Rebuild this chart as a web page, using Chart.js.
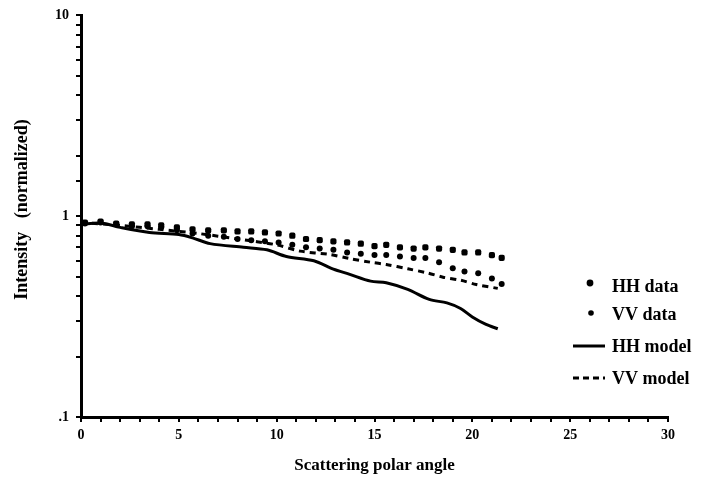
<!DOCTYPE html>
<html>
<head>
<meta charset="utf-8">
<script src="https://cdn.jsdelivr.net/npm/chart.js@4/dist/chart.umd.min.js"></script>
<style>
  html, body { margin: 0; padding: 0; background: #fff; }
  #wrap { width: 701px; height: 485px; }
</style>
</head>
<body>
<div id="wrap"><canvas id="chart" width="701" height="485"></canvas></div>
<script>
// Messpunkte (Winkel in Grad)
const dataAngles = [0.2, 1.0, 1.8, 2.6, 3.4, 4.1, 4.9, 5.7, 6.5, 7.3, 8.0, 8.7, 9.4, 10.1, 10.8, 11.5,
    12.2, 12.9, 13.6, 14.3, 15.0, 15.6, 16.3, 17.0, 17.6, 18.3, 19.0, 19.6, 20.3, 21.0, 21.5];
const hhData = [0.93, 0.94, 0.92, 0.91, 0.91, 0.90, 0.88, 0.86, 0.85, 0.85, 0.84, 0.84, 0.83, 0.82, 0.80, 0.77,
    0.76, 0.75, 0.74, 0.73, 0.71, 0.72, 0.70, 0.69, 0.70, 0.69, 0.68, 0.66, 0.66, 0.64, 0.62];
const vvData = [0.92, 0.93, 0.91, 0.89, 0.89, 0.88, 0.85, 0.82, 0.80, 0.79, 0.77, 0.76, 0.75, 0.74, 0.72, 0.70,
    0.69, 0.68, 0.66, 0.65, 0.64, 0.64, 0.63, 0.62, 0.62, 0.59, 0.55, 0.53, 0.52, 0.49, 0.46];

// Modellkurven
const hhModelAngles = [0, 1, 2, 3.5, 5, 5.7, 6.6, 8.3, 9.5, 10.5, 11.9, 12.9, 13.7, 14.8, 15.6, 16.7, 17.8, 18.7, 19.4, 20.0, 20.7, 21.3];
const hhModel = [0.91, 0.925, 0.88, 0.83, 0.81, 0.78, 0.73, 0.70, 0.68, 0.63, 0.60, 0.545, 0.515, 0.475, 0.466, 0.432, 0.385, 0.37, 0.347, 0.315, 0.289, 0.275];
const vvModelAngles = [0, 2, 4, 6, 8, 10, 11.2, 12.7, 13.7, 14.8, 15.6, 16.7, 17.7, 18.5, 19.4, 20.2, 21.3];
const vvModel = [0.93, 0.90, 0.86, 0.82, 0.77, 0.72, 0.67, 0.645, 0.616, 0.59, 0.575, 0.547, 0.522, 0.497, 0.48, 0.457, 0.437];

const legendLabels = ['HH data', 'VV data', 'HH model', 'VV model'];
const yTickLabels = { 0.1: '.1', 1: '1', 10: '10' };

const serif = '"Liberation Serif", "DejaVu Serif", serif';

function pts(xs, ys) {
    return xs.map((x, i) => ({ x: x, y: ys[i] }));
}

// Legende rechts unten, von Hand gezeichnet
const legendPlugin = {
    id: 'handLegend',
    afterDraw(chart) {
        const ctx = chart.ctx;
        const rows = [287, 315, 347, 379];
        ctx.save();
        ctx.fillStyle = '#000';
        ctx.strokeStyle = '#000';
        ctx.font = 'bold 18px ' + serif;
        ctx.textBaseline = 'middle';
        legendLabels.forEach((label, i) => {
            const y = rows[i];
            if (i === 0) {
                ctx.beginPath(); ctx.arc(590, y - 4, 3.4, 0, Math.PI * 2); ctx.fill();
            } else if (i === 1) {
                ctx.beginPath(); ctx.arc(591, y - 2, 2.8, 0, Math.PI * 2); ctx.fill();
            } else {
                ctx.lineWidth = 3;
                ctx.setLineDash(i === 3 ? [6, 4] : []);
                ctx.beginPath(); ctx.moveTo(573, y - 1); ctx.lineTo(605, y - 1); ctx.stroke();
                ctx.setLineDash([]);
            }
            ctx.fillText(label, 612, y);
        });
        ctx.restore();
    }
};

new Chart(document.getElementById('chart'), {
    type: 'scatter',
    data: {
        datasets: [
            {
                label: 'HH data',
                data: pts(dataAngles, hhData),
                pointStyle: 'rectRounded',
                pointRadius: 3.6,
                backgroundColor: '#000',
                borderColor: '#000',
                borderWidth: 0
            },
            {
                label: 'VV data',
                data: pts(dataAngles, vvData),
                pointStyle: 'circle',
                pointRadius: 3,
                backgroundColor: '#000',
                borderColor: '#000',
                borderWidth: 0
            },
            {
                label: 'HH model',
                data: pts(hhModelAngles, hhModel),
                showLine: true,
                pointRadius: 0,
                borderColor: '#000',
                borderWidth: 3,
                tension: 0.3
            },
            {
                label: 'VV model',
                data: pts(vvModelAngles, vvModel),
                showLine: true,
                pointRadius: 0,
                borderColor: '#000',
                borderWidth: 3,
                borderDash: [6, 5],
                tension: 0.3
            }
        ]
    },
    options: {
        responsive: false,
        animation: false,
        layout: { padding: { left: 0, right: 33, top: 14, bottom: 0 } },
        plugins: {
            legend: { display: false },
            tooltip: { enabled: false }
        },
        scales: {
            x: {
                type: 'linear',
                min: 0,
                max: 30,
                afterFit: s => { s.height = 68; },
                border: { display: true, color: '#000', width: 3 },
                grid: { drawOnChartArea: false, color: '#000', lineWidth: 2, tickLength: 5 },
                ticks: {
                    stepSize: 1,
                    autoSkip: false,
                    maxRotation: 0,
                    color: '#000',
                    font: { family: serif, size: 14, weight: 'bold' },
                    padding: 5,
                    callback: v => (v % 5 === 0 ? String(v) : '')
                },
                title: {
                    display: true,
                    text: 'Scattering polar angle',
                    color: '#000',
                    font: { family: serif, size: 17, weight: 'bold' },
                    padding: { top: 0, bottom: 9 }
                }
            },
            y: {
                type: 'logarithmic',
                min: 0.1,
                max: 10,
                afterFit: s => { s.width = 81; },
                border: { display: true, color: '#000', width: 3 },
                grid: { drawOnChartArea: false, color: '#000', lineWidth: 2, tickLength: 5 },
                ticks: {
                    autoSkip: false,
                    color: '#000',
                    font: { family: serif, size: 14, weight: 'bold' },
                    padding: 7,
                    callback: v => yTickLabels[v] || ''
                },
                title: {
                    display: true,
                    text: '   Intensity   (normalized)',
                    color: '#000',
                    font: { family: serif, size: 18, weight: 'bold' },
                    padding: { top: 12, bottom: 0 }
                }
            }
        }
    },
    plugins: [legendPlugin]
});
</script>
</body>
</html>
